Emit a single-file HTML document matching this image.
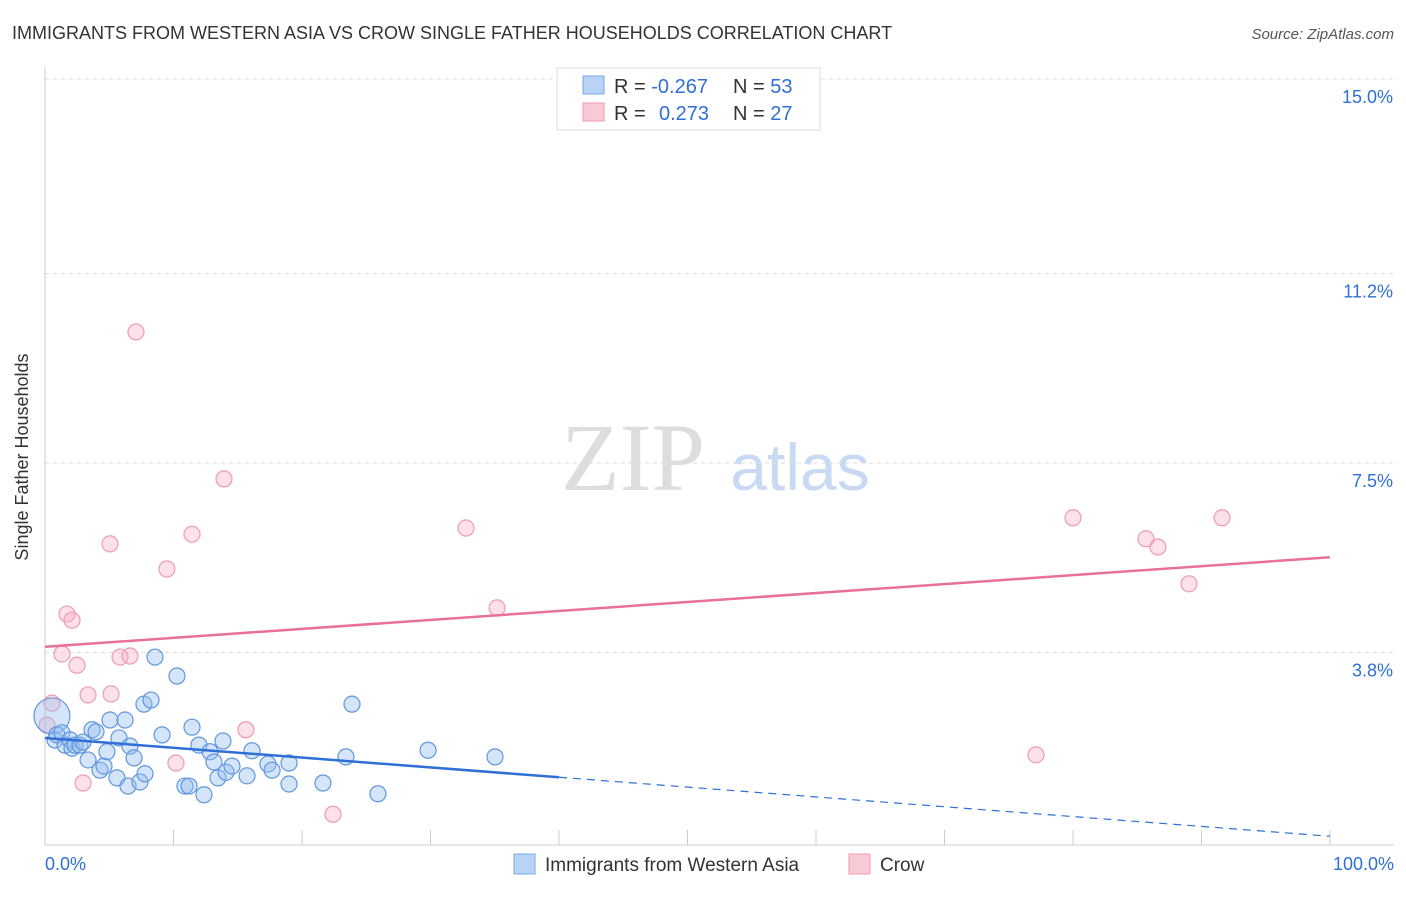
<!DOCTYPE html>
<html><head><meta charset="utf-8"><style>
body{margin:0;background:#fff;font-family:"Liberation Sans",sans-serif}
</style></head><body>
<svg id="chart" width="1406" height="892" xmlns="http://www.w3.org/2000/svg">
<text x="12" y="39" font-size="18" fill="#333">IMMIGRANTS FROM WESTERN ASIA VS CROW SINGLE FATHER HOUSEHOLDS CORRELATION CHART</text>
<text x="1394" y="39" font-size="15" fill="#555" font-style="italic" text-anchor="end">Source: ZipAtlas.com</text>
<text x="28" y="457" font-size="18" fill="#333" text-anchor="middle" transform="rotate(-90 28 457)">Single Father Households</text>
<text x="633" y="490" font-size="96" fill="#ddd" font-family="Liberation Serif, serif" text-anchor="middle">ZIP</text>
<text x="800" y="490" font-size="66" fill="#c8daf3" text-anchor="middle">atlas</text>
<g id="grid"></g><g id="pts"></g><g id="lines"></g>
<g>
<rect x="557" y="68" width="263" height="62" fill="#fff" stroke="#ddd"/>
<rect x="583" y="76" width="21" height="18" fill="#b8d3f5" stroke="#7aa7e6"/>
<rect x="583" y="103" width="21" height="18" fill="#f9c9d6" stroke="#ee9ab2"/>
<text x="614" y="93" font-size="20" fill="#333">R = <tspan fill="#2f6fd6">-0.267</tspan><tspan x="733">N = </tspan><tspan fill="#2f6fd6">53</tspan></text>
<text x="614" y="120" font-size="20" fill="#333">R = <tspan x="659" fill="#2f6fd6">0.273</tspan><tspan x="733">N = </tspan><tspan fill="#2f6fd6">27</tspan></text>
</g>
<g>
<rect x="514" y="854" width="21" height="20" fill="#b8d3f5" stroke="#7aa7e6"/>
<text x="545" y="871" font-size="19" fill="#333">Immigrants from Western Asia</text>
<rect x="849" y="854" width="21" height="20" fill="#f9c9d6" stroke="#ee9ab2"/>
<text x="880" y="871" font-size="19" fill="#333">Crow</text>
</g>
</svg>
<script>
const yTicks=[15.0,11.2,7.5,3.8];
const yTickLabels=["15.0%","11.2%","7.5%","3.8%"];
const xTickLabels=["0.0%","100.0%"];
const blueX=[0.54,0.78,0.93,1.32,1.56,1.95,2.10,2.33,2.72,2.96,3.35,3.66,3.97,4.28,4.59,4.82,5.06,5.60,5.76,6.23,6.46,6.61,6.93,7.39,7.70,7.78,8.25,8.56,9.11,10.27,10.89,11.21,11.44,11.98,12.37,12.84,13.15,13.46,13.85,14.09,14.55,15.72,16.11,17.35,17.67,18.99,18.99,21.63,23.42,23.89,25.91,29.81,35.02];
const blueY=[2.56,2.09,2.19,2.23,1.99,2.09,1.93,1.99,1.99,2.05,1.70,2.29,2.25,1.50,1.58,1.86,2.48,1.35,2.13,2.48,1.19,1.97,1.74,1.27,2.79,1.43,2.87,3.71,2.19,3.34,1.19,1.19,2.34,1.99,1.02,1.86,1.66,1.35,2.07,1.46,1.58,1.39,1.88,1.62,1.50,1.23,1.64,1.25,1.76,2.79,1.04,1.89,1.76];
const pinkX=[0.54,0.16,1.32,1.71,2.10,2.49,2.96,3.35,5.06,5.14,5.84,6.61,7.08,9.49,10.19,11.44,13.93,15.64,22.41,32.76,35.18,77.12,80.00,85.68,86.61,89.03,91.60];
const pinkY=[2.81,2.38,3.77,4.55,4.43,3.55,1.25,2.97,5.92,2.99,3.71,3.73,10.06,5.43,1.64,6.11,7.19,2.29,0.64,6.23,4.67,1.80,6.43,6.02,5.86,5.14,6.43];
const blueTrend=[2.13,0.21];
const pinkTrend=[3.91,5.66];
const NS="http://www.w3.org/2000/svg";
const X=v=>45+v*12.85, Y=v=>847-v*51.2;
function mk(t,a,p){const e=document.createElementNS(NS,t);for(const k in a)e.setAttribute(k,a[k]);p.appendChild(e);return e;}
const g=document.getElementById('grid');
yTicks.forEach((t,i)=>{
 const l=mk('line',{x1:45,x2:1394,y1:Y(t),y2:Y(t),stroke:'#ddd','stroke-dasharray':'4,4'},g);
 
 
 const tx=mk('text',{x:1393,y:Y(t)+24,'font-size':18,fill:'#2f6fd6','text-anchor':'end'},g);tx.textContent=yTickLabels[i];
 
 
});
mk('line',{x1:45,x2:45,y1:67,y2:845,stroke:'#ccc'},g);
mk('line',{x1:45,x2:1394,y1:845,y2:845,stroke:'#ccc'},g);
for(let i=0;i<=10;i++){const t=mk('line',{x1:X(i*10),x2:X(i*10),y1:830,y2:845,stroke:'#ccc'},g);
 
 }
[[0,'start',45],[100,'end',1394]].forEach((d,i)=>{const t=mk('text',{x:d[2],y:870,'font-size':18,fill:'#2f6fd6','text-anchor':d[1]},g);t.textContent=xTickLabels[i];
 
 });
const p=document.getElementById('pts');
pinkX.forEach((x,i)=>{const c=mk('circle',{cx:X(x),cy:Y(pinkY[i]),r:8,fill:'rgba(246,170,194,0.35)',stroke:'#ee9ab2','stroke-width':1.2},p);
 
 });
blueX.forEach((x,i)=>{const c=mk('circle',{cx:X(x),cy:Y(blueY[i]),r:i===0?18:8,fill:'rgba(150,190,240,0.4)',stroke:'#5f96e0','stroke-width':1.2},p);
 
 });
const L=document.getElementById('lines');
const by=x=>blueTrend[0]+(blueTrend[1]-blueTrend[0])*x/100;
const pl=mk('line',{x1:X(0),y1:Y(pinkTrend[0]),x2:X(100),y2:Y(pinkTrend[1]),stroke:'#e8709a','stroke-width':2.5},L);


const bl=mk('line',{x1:X(0),y1:Y(by(0)),x2:X(40),y2:Y(by(40)),stroke:'#2f6fd6','stroke-width':2.5},L);


const bd=mk('line',{x1:X(40),y1:Y(by(40)),x2:X(100),y2:Y(by(100)),stroke:'#2f6fd6','stroke-width':1.2,'stroke-dasharray':'8,6'},L);


</script>
</body></html>
